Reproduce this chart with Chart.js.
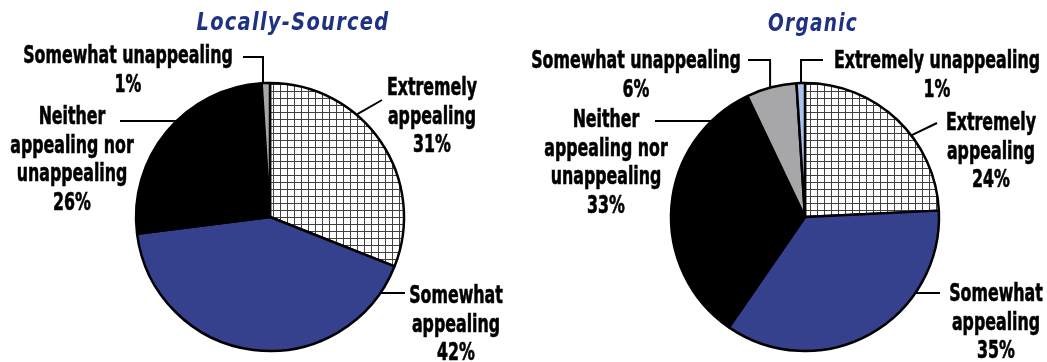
<!DOCTYPE html>
<html>
<head>
<meta charset="utf-8">
<script src="https://cdn.jsdelivr.net/npm/chart.js@4/dist/chart.umd.min.js"></script>
<style>
  html, body { margin: 0; padding: 0; background: #fff; }
  #wrap { position: relative; width: 1047px; height: 362px; overflow: hidden; }
  .box { position: absolute; top: 0; height: 362px; }
  #boxL { left: 0; width: 523px; }
  #boxR { left: 523px; width: 524px; }
</style>
</head>
<body>
<div id="wrap">
  <div class="box" id="boxL"><canvas id="cL"></canvas></div>
  <div class="box" id="boxR"><canvas id="cR"></canvas></div>
</div>
<script>
// ---- data ----
const categories = ["Extremely appealing", "Somewhat appealing", "Neither appealing nor unappealing", "Somewhat unappealing", "Extremely unappealing"];
const categoryLines = [["Extremely", "appealing"], ["Somewhat", "appealing"], ["Neither", "appealing nor", "unappealing"], ["Somewhat unappealing"], ["Extremely unappealing"]];
const locallySourced = [31, 42, 26, 1, 0];
const organic = [24, 35, 33, 6, 1];
const titleLeft = "Locally-Sourced";
const titleRight = "Organic";

// ---- styles ----
const NAVY = "#1f3182";
const BLUE = "#35418d";
const GRAY = "#a7a7aa";
const LIGHTBLUE = "#a9c3ea";
const LABEL_FONT = 'bold 25px "Liberation Sans Narrow", "DejaVu Sans Condensed", sans-serif';
const TITLE_FONT = 'italic bold 25px "Liberation Sans Narrow", "DejaVu Sans Condensed", sans-serif';

function hatch() {
  const c = document.createElement("canvas");
  c.width = 7; c.height = 7;
  const x = c.getContext("2d");
  x.fillStyle = "#fff"; x.fillRect(0, 0, 7, 7);
  x.fillStyle = "#404040";
  x.fillRect(0, 0, 7, 1);
  x.fillRect(0, 0, 1, 7);
  return x.createPattern(c, "repeat");
}
const fills = [hatch(), BLUE, "#000000", GRAY, LIGHTBLUE];

// label layout: offsets from pie centre; leader: arc angle (deg clockwise from top)
const layoutL = {
  title: { text: titleLeft, dx: 23, dy: -187, w: 193 },
  labels: [
    { i: 0, dx: 162, dy: -122, ang: 40.2, leader: "line", ex: 112, ey: -117 },
    { i: 1, dx: 186, dy: 86, ang: 124.6, leader: "line", ex: 135, ey: 76 },
    { i: 2, dx: -198, dy: -93, ang: 315.8, leader: "line", ex: -150, ey: -96 },
    { i: 3, dx: -142, dy: -154, ang: 357, leader: "elbow", ex: -27, ey: -160, gap: 29 }
  ]
};
const layoutR = {
  title: { text: titleRight, dx: 8, dy: -186, w: 90 },
  labels: [
    { i: 0, dx: 186, dy: -87, ang: 52.5, leader: "line", ex: 132, ey: -94 },
    { i: 1, dx: 191, dy: 84, ang: 124.6, leader: "line", ex: 135, ey: 76 },
    { i: 2, dx: -199, dy: -90, ang: 315.8, leader: "line", ex: -150, ey: -96 },
    { i: 3, dx: -169, dy: -149, ang: 344.9, leader: "elbow", ex: -57, ey: -157, gap: 29 },
    { i: 4, dx: 132, dy: -149, ang: 358.3, leader: "elbow", ex: 18, ey: -157, gap: 29 }
  ]
};

function drawText(ctx, s, x, y, sx, bold) {
  ctx.save();
  ctx.translate(x, y);
  ctx.scale(sx, 1);
  ctx.fillText(s, 0, 0);
  if (bold) { ctx.lineWidth = bold; ctx.strokeText(s, 0, 0); }
  ctx.restore();
}

const labelPlugin = {
  id: "pieLabels",
  afterDatasetsDraw(chart, args, opts) {
    const lay = opts.layout;
    const values = chart.data.datasets[0].data;
    const meta = chart.getDatasetMeta(0);
    const arc0 = meta.data[0];
    const cx = arc0.x, cy = arc0.y, R = arc0.outerRadius;
    const ctx = chart.ctx;
    ctx.save();
    ctx.textAlign = "center";
    ctx.textBaseline = "alphabetic";
    // title
    ctx.font = TITLE_FONT;
    ctx.fillStyle = NAVY;
    ctx.strokeStyle = NAVY;
    ctx.letterSpacing = "1.5px";
    const tsx = lay.title.w / ctx.measureText(lay.title.text).width;
    drawText(ctx, lay.title.text, cx + lay.title.dx, cy + lay.title.dy, tsx, 0);
    ctx.letterSpacing = "0px";
    // labels
    ctx.font = LABEL_FONT;
    const sx = 90 / ctx.measureText("Extremely").width;
    ctx.fillStyle = "#000";
    ctx.strokeStyle = "#000";
    lay.labels.forEach(L => {
      const lines = categoryLines[L.i].concat([values[L.i] + "%"]);
      const gap = L.gap || 28.5;
      lines.forEach((s, k) => drawText(ctx, s, cx + L.dx, cy + L.dy + k * gap, sx, 0.6));
      const a = L.ang * Math.PI / 180;
      const px = cx + R * Math.sin(a), py = cy - R * Math.cos(a);
      ctx.lineWidth = 2;
      ctx.beginPath();
      if (L.leader === "elbow") {
        ctx.moveTo(cx + L.ex, cy + L.ey);
        ctx.lineTo(px, cy + L.ey);
        ctx.lineTo(px, py);
      } else {
        ctx.moveTo(px, py);
        ctx.lineTo(cx + L.ex, cy + L.ey);
      }
      ctx.stroke();
    });
    ctx.restore();
  }
};

function makePie(id, values, layout, padding) {
  return new Chart(document.getElementById(id), {
    type: "pie",
    data: {
      labels: categories,
      datasets: [{
        data: values,
        backgroundColor: fills,
        borderColor: "#000",
        borderWidth: 2.5,
        hoverOffset: 0
      }]
    },
    options: {
      responsive: true,
      maintainAspectRatio: false,
      animation: false,
      radius: 134,
      layout: { padding: padding },
      plugins: {
        legend: { display: false },
        tooltip: { enabled: false },
        pieLabels: { layout: layout }
      }
    },
    plugins: [labelPlugin]
  });
}

makePie("cL", locallySourced, layoutL, { left: 20, right: 3, top: 80, bottom: 8 });
makePie("cR", organic, layoutR, { left: 40, right: 0, top: 80, bottom: 8 });
</script>
</body>
</html>
